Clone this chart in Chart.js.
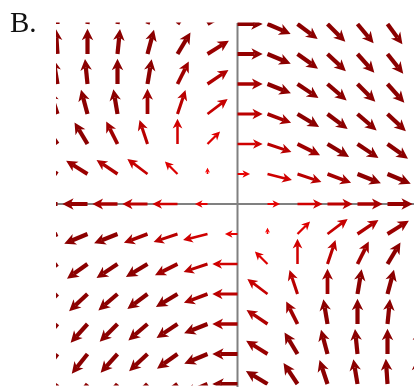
<!DOCTYPE html>
<html lang="en">
<head>
    <meta charset="UTF-8">
    <title>Vector field B</title>
    <script src="https://cdn.jsdelivr.net/npm/chart.js"></script>
    <style>
        html, body {
            margin: 0;
            padding: 0;
            background: #ffffff;
            overflow: hidden;
        }
        #wrap {
            position: relative;
            width: 420px;
            height: 387px;
        }
        #label {
            position: absolute;
            left: 10px;
            top: 6px;
            font-family: "Liberation Serif", "DejaVu Serif", serif;
            font-size: 29px;
            color: #111;
        }
    </style>
</head>
<body>
<div id="wrap">
    <canvas id="field"></canvas>
    <div id="label">B.</div>
</div>
<script>
    // grid positions (columns left to right, rows top to bottom)
    const xGrid = [-6, -5, -4, -3, -2, -1, 0, 1, 2, 3, 4, 5, 6];
    const yGrid = [6, 5, 4, 3, 2, 1, 0, -1, -2, -3, -4, -5, -6];

    // horizontal component of each arrow, one row per yGrid entry
    const uRows = [
        [0, 1, 2, 3, 4, 5, 6, 7, 8, 9, 10, 11, 12],
        [-1, 0, 1, 2, 3, 4, 5, 6, 7, 8, 9, 10, 11],
        [-2, -1, 0, 1, 2, 3, 4, 5, 6, 7, 8, 9, 10],
        [-3, -2, -1, 0, 1, 2, 3, 4, 5, 6, 7, 8, 9],
        [-4, -3, -2, -1, 0, 1, 2, 3, 4, 5, 6, 7, 8],
        [-5, -4, -3, -2, -1, 0, 1, 2, 3, 4, 5, 6, 7],
        [-6, -5, -4, -3, -2, -1, 0, 1, 2, 3, 4, 5, 6],
        [-7, -6, -5, -4, -3, -2, -1, 0, 1, 2, 3, 4, 5],
        [-8, -7, -6, -5, -4, -3, -2, -1, 0, 1, 2, 3, 4],
        [-9, -8, -7, -6, -5, -4, -3, -2, -1, 0, 1, 2, 3],
        [-10, -9, -8, -7, -6, -5, -4, -3, -2, -1, 0, 1, 2],
        [-11, -10, -9, -8, -7, -6, -5, -4, -3, -2, -1, 0, 1],
        [-12, -11, -10, -9, -8, -7, -6, -5, -4, -3, -2, -1, 0]
    ];

    // vertical component of each arrow
    const vRows = [
        [18, 15, 12, 9, 6, 3, 0, -3, -6, -9, -12, -15, -18],
        [15, 12.5, 10, 7.5, 5, 2.5, 0, -2.5, -5, -7.5, -10, -12.5, -15],
        [12, 10, 8, 6, 4, 2, 0, -2, -4, -6, -8, -10, -12],
        [9, 7.5, 6, 4.5, 3, 1.5, 0, -1.5, -3, -4.5, -6, -7.5, -9],
        [6, 5, 4, 3, 2, 1, 0, -1, -2, -3, -4, -5, -6],
        [3, 2.5, 2, 1.5, 1, 0.5, 0, -0.5, -1, -1.5, -2, -2.5, -3],
        [0, 0, 0, 0, 0, 0, 0, 0, 0, 0, 0, 0, 0],
        [-3, -2.5, -2, -1.5, -1, -0.5, 0, 0.5, 1, 1.5, 2, 2.5, 3],
        [-6, -5, -4, -3, -2, -1, 0, 1, 2, 3, 4, 5, 6],
        [-9, -7.5, -6, -4.5, -3, -1.5, 0, 1.5, 3, 4.5, 6, 7.5, 9],
        [-12, -10, -8, -6, -4, -2, 0, 2, 4, 6, 8, 10, 12],
        [-15, -12.5, -10, -7.5, -5, -2.5, 0, 2.5, 5, 7.5, 10, 12.5, 15],
        [-18, -15, -12, -9, -6, -3, 0, 3, 6, 9, 12, 15, 18]
    ];

    const points = [];
    yGrid.forEach((y, r) => {
        xGrid.forEach((x, c) => {
            points.push({ x: x, y: y, u: uRows[r][c], v: vRows[r][c] });
        });
    });

    function arrowColour(t) {
        const r = Math.round(255 - (255 - 139) * t);
        return 'rgb(' + r + ',0,0)';
    }

    const quiverPlugin = {
        id: 'quiver',
        beforeDatasetsDraw(chart) {
            const ctx = chart.ctx;
            const xs = chart.scales.x, ys = chart.scales.y;
            const x0 = xs.getPixelForValue(0), y0 = ys.getPixelForValue(0);
            ctx.save();
            ctx.strokeStyle = '#808080';
            ctx.lineWidth = 2;
            ctx.beginPath();
            ctx.moveTo(x0, ys.getPixelForValue(6) - 1);
            ctx.lineTo(x0, ys.getPixelForValue(-6) + 3);
            ctx.moveTo(xs.getPixelForValue(-6) - 1.5, y0);
            ctx.lineTo(xs.getPixelForValue(6) + 3, y0);
            ctx.stroke();
            ctx.restore();
        },
        afterDatasetsDraw(chart) {
            const ctx = chart.ctx;
            const area = chart.chartArea;
            const xs = chart.scales.x, ys = chart.scales.y;
            const meta = chart.getDatasetMeta(0);
            ctx.save();
            ctx.beginPath();
            ctx.rect(area.left - 1.5, area.top - 1.5, area.right - area.left + 3, area.bottom - area.top + 3);
            ctx.clip();
            meta.data.forEach((el, i) => {
                const p = chart.data.datasets[0].data[i];
                const mag = Math.hypot(p.u, p.v);
                if (mag === 0) return;
                const len = 0.42 * Math.min(mag, 2);
                const tx = xs.getPixelForValue(p.x + p.u / mag * len);
                const ty = ys.getPixelForValue(p.y + p.v / mag * len);
                const sx = el.x, sy = el.y;
                const L = Math.hypot(tx - sx, ty - sy);
                const dx = (tx - sx) / L, dy = (ty - sy) / L;
                const t = Math.pow(Math.min(1, mag / 5.5), 0.9);
                const w = 1.4 + 2.8 * t;
                const head = Math.min(L * 0.8, 5.5 + 0.12 * L + 3 * t);
                const half = head * 0.5;
                const col = arrowColour(t);
                const bx = tx - dx * head, by = ty - dy * head;
                const nx = tx - dx * head * 0.72, ny = ty - dy * head * 0.72;
                ctx.strokeStyle = col;
                ctx.fillStyle = col;
                ctx.lineWidth = w;
                ctx.lineCap = 'butt';
                ctx.beginPath();
                ctx.moveTo(sx, sy);
                ctx.lineTo(nx, ny);
                ctx.stroke();
                ctx.beginPath();
                ctx.moveTo(tx, ty);
                ctx.lineTo(bx - dy * half, by + dx * half);
                ctx.lineTo(nx, ny);
                ctx.lineTo(bx + dy * half, by - dx * half);
                ctx.closePath();
                ctx.fill();
            });
            ctx.restore();
        }
    };

    new Chart(document.getElementById('field'), {
        type: 'scatter',
        data: {
            datasets: [{
                data: points,
                pointRadius: 0,
                pointHoverRadius: 0
            }]
        },
        options: {
            responsive: true,
            maintainAspectRatio: false,
            animation: false,
            events: [],
            layout: { padding: { left: 57.5, right: 2.5, top: 24, bottom: 3 } },
            scales: {
                x: { type: 'linear', min: -6, max: 6, display: false },
                y: { type: 'linear', min: -6, max: 6, display: false }
            },
            plugins: {
                legend: { display: false },
                tooltip: { enabled: false }
            }
        },
        plugins: [quiverPlugin]
    });
</script>
</body>
</html>
